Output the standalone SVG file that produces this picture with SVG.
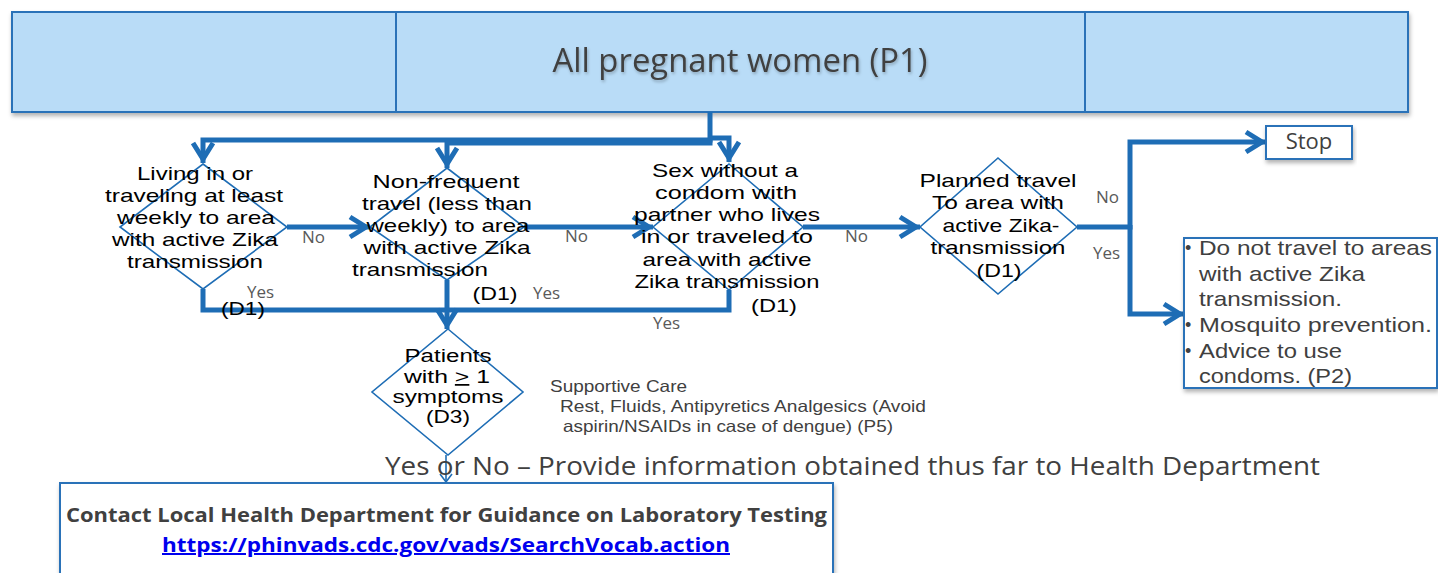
<svg xmlns="http://www.w3.org/2000/svg" width="1438" height="573" viewBox="0 0 1438 573">
<defs>
  <filter id="sh" x="-5%" y="-20%" width="110%" height="150%">
    <feDropShadow dx="1" dy="3" stdDeviation="2" flood-color="#000" flood-opacity="0.3"/>
  </filter>
  <filter id="tsh" x="-5%" y="-30%" width="110%" height="170%">
    <feDropShadow dx="1" dy="2" stdDeviation="1.5" flood-color="#000" flood-opacity="0.25"/>
  </filter>
  <marker id="ah" markerUnits="userSpaceOnUse" markerWidth="30" markerHeight="30" viewBox="-20 -15 30 30" refX="4" refY="0" orient="auto" overflow="visible">
    <path d="M-16,-10 L0,0 L-16,10" fill="none" stroke="#1e6db5" stroke-width="5"/>
  </marker>
  <marker id="ahs" markerUnits="userSpaceOnUse" markerWidth="16" markerHeight="16" viewBox="-10 -8 16 16" refX="1" refY="0" orient="auto" overflow="visible">
    <path d="M-8,-6 L0,0 L-8,6" fill="none" stroke="#1e6db5" stroke-width="1.6"/>
  </marker>
  <style>
    .box{fill:#b9dcf7;stroke:#2b72b8;stroke-width:2}
    .wbox{fill:#fff;stroke:#2b72b8;stroke-width:2}
    .dia{fill:none;stroke:#1e6db5;stroke-width:1.6}
    .con{fill:none;stroke:#1e6db5;stroke-width:5;stroke-linejoin:miter}
    .thin{fill:none;stroke:#1e6db5;stroke-width:1.6}
    .dt{font-family:"Liberation Sans",Arial,sans-serif;font-size:19px;fill:#000;text-anchor:middle}
    .d3{font-size:17.5px}
    .lab{font-family:"Open Sans","Noto Sans","Liberation Sans",sans-serif;font-size:17px;fill:#595959}
    .gt{font-family:"Open Sans","Noto Sans","Liberation Sans",sans-serif;fill:#404040}
    .gl{font-family:"Liberation Sans",Arial,sans-serif;fill:#404040}
  </style>
</defs>

<g id="p1">
  <rect class="box" x="12" y="12" width="1396" height="100" filter="url(#sh)"/>
  <line x1="396" y1="12" x2="396" y2="112" stroke="#2b72b8" stroke-width="2"/>
  <line x1="1085" y1="12" x2="1085" y2="112" stroke="#2b72b8" stroke-width="2"/>
  <text class="gt" x="740" y="72" font-size="32" text-anchor="middle" filter="url(#tsh)" textLength="375" lengthAdjust="spacingAndGlyphs">All pregnant women (P1)</text>
</g>

<g id="connectors">
  <path class="con" d="M710,112 V140 H203 V163" marker-end="url(#ah)"/>
  <path class="con" d="M710,138 V143 H447 V168" marker-end="url(#ah)"/>
  <path class="con" d="M708,138 H729 V162" marker-end="url(#ah)"/>
  <path class="con" d="M287,227 H370" marker-end="url(#ah)"/>
  <path class="con" d="M524,227 H653" marker-end="url(#ah)"/>
  <path class="con" d="M803,227 H920" marker-end="url(#ah)"/>
  <path class="con" d="M1077,227 H1130 V142 H1266" marker-end="url(#ah)"/>
  <path class="con" d="M1130,225 V314 H1184" marker-end="url(#ah)"/>
  <path class="con" d="M203,289 V310 H729 V290"/>
  <path class="con" d="M447,280 V329" marker-end="url(#ah)"/>
  <path class="thin" d="M446,455 V483" marker-end="url(#ahs)"/>
  <text class="lab" x="302" y="243">No</text>
  <text class="lab" x="565" y="242">No</text>
  <text class="lab" x="845" y="242">No</text>
  <text class="lab" x="1096" y="203">No</text>
  <text class="lab" x="247" y="298">Yes</text>
  <text class="lab" x="533" y="299">Yes</text>
  <text class="lab" x="653" y="329">Yes</text>
  <text class="lab" x="1093" y="259">Yes</text>
</g>

<g id="d1a">
  <polygon class="dia" points="203,164 287,227 203,289 120,227"/>
  <text class="dt" x="195" y="180" textLength="116" lengthAdjust="spacingAndGlyphs">Living in or</text>
  <text class="dt" x="194" y="202" textLength="178" lengthAdjust="spacingAndGlyphs">traveling at least</text>
  <text class="dt" x="196" y="224" textLength="158" lengthAdjust="spacingAndGlyphs">weekly to area</text>
  <text class="dt" x="195" y="246" textLength="166" lengthAdjust="spacingAndGlyphs">with active Zika</text>
  <text class="dt" x="195" y="268" textLength="136" lengthAdjust="spacingAndGlyphs">transmission</text>
  <text class="dt" x="243" y="315" textLength="44" lengthAdjust="spacingAndGlyphs">(D1)</text>
</g>

<g id="d1b">
  <polygon class="dia" points="447,168 524,227 447,280 370,227"/>
  <text class="dt" x="446" y="188" textLength="147" lengthAdjust="spacingAndGlyphs">Non-frequent</text>
  <text class="dt" x="447" y="210" textLength="170" lengthAdjust="spacingAndGlyphs">travel (less than</text>
  <text class="dt" x="448" y="232" textLength="163" lengthAdjust="spacingAndGlyphs">weekly) to area</text>
  <text class="dt" x="447" y="254" textLength="167" lengthAdjust="spacingAndGlyphs">with active Zika</text>
  <text class="dt" x="420" y="276" textLength="136" lengthAdjust="spacingAndGlyphs">transmission</text>
  <text class="dt" x="495" y="300" textLength="45" lengthAdjust="spacingAndGlyphs">(D1)</text>
</g>

<g id="d1c">
  <polygon class="dia" points="729,164 803,227 729,290 653,227"/>
  <text class="dt" x="725" y="177" textLength="146" lengthAdjust="spacingAndGlyphs">Sex without a</text>
  <text class="dt" x="726" y="199" textLength="142" lengthAdjust="spacingAndGlyphs">condom with</text>
  <text class="dt" x="727" y="221" textLength="186" lengthAdjust="spacingAndGlyphs">partner who lives</text>
  <text class="dt" x="727" y="243" textLength="172" lengthAdjust="spacingAndGlyphs">in or traveled to</text>
  <text class="dt" x="727" y="266" textLength="169" lengthAdjust="spacingAndGlyphs">area with active</text>
  <text class="dt" x="727" y="288" textLength="185" lengthAdjust="spacingAndGlyphs">Zika transmission</text>
  <text class="dt" x="774" y="312" textLength="46" lengthAdjust="spacingAndGlyphs">(D1)</text>
</g>

<g id="d1d">
  <polygon class="dia" points="998,158 1077,227 998,294 920,227"/>
  <text class="dt" x="998" y="187" textLength="157" lengthAdjust="spacingAndGlyphs">Planned travel</text>
  <text class="dt" x="998" y="209" textLength="132" lengthAdjust="spacingAndGlyphs">To area with</text>
  <text class="dt" x="1001" y="232" textLength="117" lengthAdjust="spacingAndGlyphs">active Zika-</text>
  <text class="dt" x="998" y="254" textLength="135" lengthAdjust="spacingAndGlyphs">transmission</text>
  <text class="dt" x="999" y="277" textLength="45" lengthAdjust="spacingAndGlyphs">(D1)</text>
</g>

<g id="stop">
  <rect class="wbox" x="1266" y="126" width="86" height="33" filter="url(#sh)"/>
  <text class="gt" x="1309" y="149" font-size="22" text-anchor="middle">Stop</text>
</g>

<g id="p2">
  <rect class="wbox" x="1184" y="238" width="253" height="150" filter="url(#sh)"/>
  <g class="gl" font-size="21">
    <text x="1185" y="254" font-size="18">•</text>
    <text x="1199" y="255" textLength="233" lengthAdjust="spacingAndGlyphs">Do not travel to areas</text>
    <text x="1199" y="281" textLength="166" lengthAdjust="spacingAndGlyphs">with active Zika</text>
    <text x="1199" y="306" textLength="143" lengthAdjust="spacingAndGlyphs">transmission.</text>
    <text x="1185" y="331" font-size="18">•</text>
    <text x="1199" y="332" textLength="233" lengthAdjust="spacingAndGlyphs">Mosquito prevention.</text>
    <text x="1185" y="357" font-size="18">•</text>
    <text x="1199" y="358" textLength="143" lengthAdjust="spacingAndGlyphs">Advice to use</text>
    <text x="1199" y="383" textLength="153" lengthAdjust="spacingAndGlyphs">condoms. (P2)</text>
  </g>
</g>

<g id="d3">
  <polygon class="dia" points="448,329 523,392 448,455 372,392"/>
  <text class="dt d3" x="448" y="362" textLength="87" lengthAdjust="spacingAndGlyphs">Patients</text>
  <text class="dt d3" x="447" y="383" textLength="86" lengthAdjust="spacingAndGlyphs">with <tspan text-decoration="underline">&gt;</tspan> 1</text>
  <text class="dt d3" x="448" y="403" textLength="111" lengthAdjust="spacingAndGlyphs">symptoms</text>
  <text class="dt d3" x="448" y="423" textLength="44" lengthAdjust="spacingAndGlyphs">(D3)</text>
</g>

<g id="p5">
  <text class="gl" x="550" y="392" font-size="16.5" fill="#595959" textLength="137" lengthAdjust="spacingAndGlyphs">Supportive Care</text>
  <text class="gl" x="560" y="412" font-size="16.5" fill="#595959" textLength="366" lengthAdjust="spacingAndGlyphs">Rest, Fluids, Antipyretics Analgesics (Avoid</text>
  <text class="gl" x="563" y="432" font-size="16.5" fill="#595959" textLength="330" lengthAdjust="spacingAndGlyphs">aspirin/NSAIDs in case of dengue) (P5)</text>
</g>

<g id="note">
  <text class="gt" x="385" y="475" font-size="26" fill="#4a4a4a" textLength="935" lengthAdjust="spacingAndGlyphs">Yes or No – Provide information obtained thus far to Health Department</text>
</g>

<g id="lab">
  <rect class="wbox" x="60" y="483" width="773" height="100" filter="url(#sh)"/>
  <text class="gt" x="66" y="522" font-size="20" font-weight="bold" textLength="761" lengthAdjust="spacingAndGlyphs">Contact Local Health Department for Guidance on Laboratory Testing</text>
  <text x="162" y="552" font-family="'Open Sans','Noto Sans','Liberation Sans',sans-serif" font-size="20" font-weight="bold" fill="#0000ee" text-decoration="underline" textLength="568" lengthAdjust="spacingAndGlyphs">https://phinvads.cdc.gov/vads/SearchVocab.action</text>
</g>
</svg>
